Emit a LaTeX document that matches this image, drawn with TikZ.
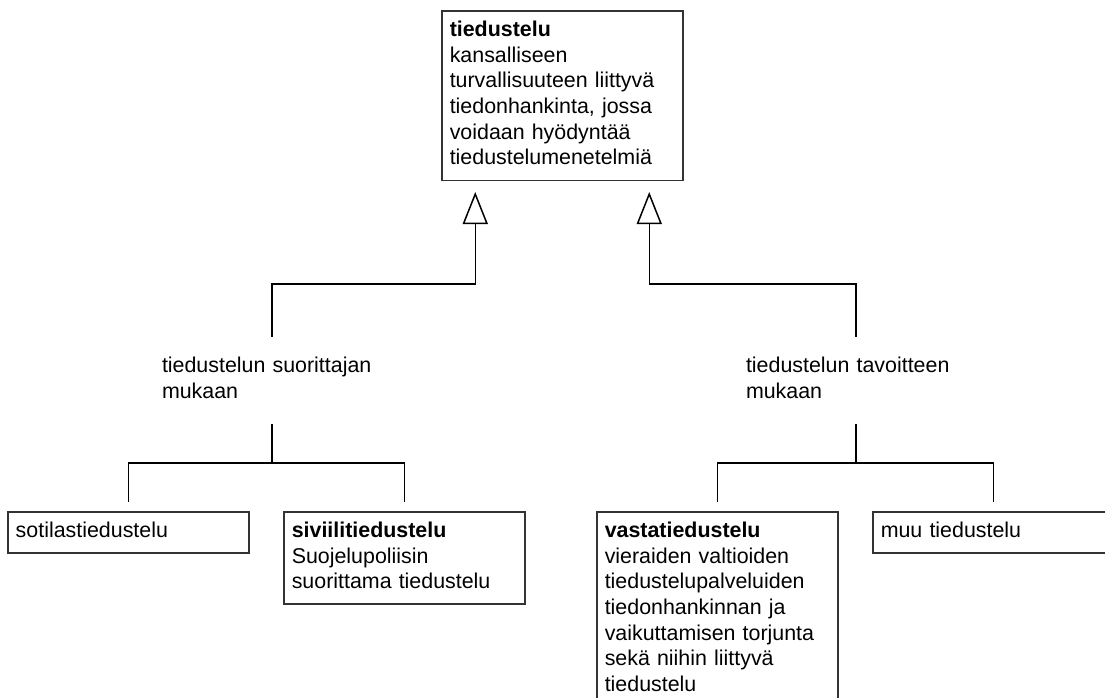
\documentclass[tikz,border=0pt]{standalone}
\usepackage{fontspec}
\setmainfont{Liberation Sans}
\usepackage{tikz}
\usetikzlibrary{arrows.meta}
\definecolor{boxline}{HTML}{333333}
\tikzset{
    def-box/.style = {draw=boxline, fill=white, line width=1.5pt, rectangle, anchor=north west, text width=225pt, inner xsep=8pt, inner ysep=7.65pt, align=left, execute at begin node=\strut, execute at end node=\strut},
    branch-label/.style = {text width=220pt, inner sep=0pt, minimum height=87pt, align=left, execute at begin node=\strut, execute at end node=\strut},
    gen-line/.style = {draw=black, line width=1.5pt, -{Triangle[open, width=25pt, length=32pt]}, shorten >=11pt},
    tree-line/.style = {draw=black, line width=1.5pt},
}

\begin{document}
\begin{tikzpicture}[x=1pt, y=-1pt, font=\fontsize{21.4}{25.7}\selectfont]
\useasboundingbox (0,0) rectangle (1105,697);
\clip (0,0) rectangle (1105,697);
\node [def-box] (tied) at (441,10) {\textbf{tiedustelu}\\kansalliseen\\turvallisuuteen liittyvä\\tiedonhankinta, jossa\\voidaan hyödyntää\\tiedustelumenetelmiä};
\node [branch-label] (suor) at (272,380.5) {tiedustelun suorittajan\\mukaan};
\node [branch-label] (tavo) at (856,380.5) {tiedustelun tavoitteen\\mukaan};
\node [def-box] (soti) at (7,511) {sotilastiedustelu};
\node [def-box] (sivi) at (283,511) {\textbf{siviilitiedustelu}\\Suojelupoliisin\\suorittama tiedustelu};
\node [def-box] (vast) at (596,511) {\textbf{vastatiedustelu}\\vieraiden valtioiden\\tiedustelupalveluiden\\tiedonhankinnan ja\\vaikuttamisen torjunta\\sekä niihin liittyvä\\tiedustelu};
\node [def-box] (muut) at (872,511) {muu tiedustelu};
\path (suor.north) ++(0,-53) coordinate (suor-up) (suor.south) ++(0,39) coordinate (suor-down);
\path (tavo.north) ++(0,-53) coordinate (tavo-up) (tavo.south) ++(0,39) coordinate (tavo-down);
\draw [gen-line] (suor.north) -- (suor-up) -| ([xshift=-87pt]tied.south);
\draw [gen-line] (tavo.north) -- (tavo-up) -| ([xshift=87pt]tied.south);
\draw [tree-line] (suor.south) -- (suor-down);
\draw [tree-line, shorten >=9pt] (suor-down) -| (soti.north);
\draw [tree-line, shorten >=9pt] (suor-down) -| (sivi.north);
\draw [tree-line] (tavo.south) -- (tavo-down);
\draw [tree-line, shorten >=9pt] (tavo-down) -| (vast.north);
\draw [tree-line, shorten >=9pt] (tavo-down) -| (muut.north);
\end{tikzpicture}
\end{document}
